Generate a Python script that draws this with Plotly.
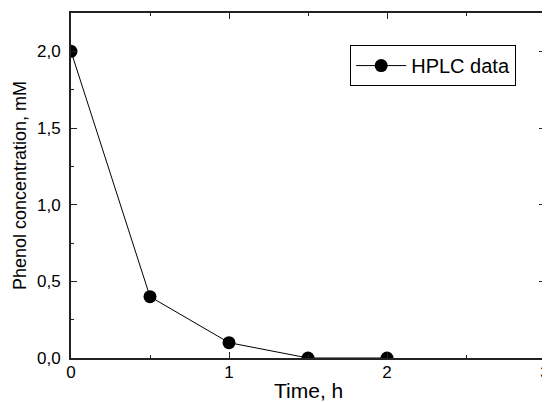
import plotly.graph_objects as go

time_h = [0, 0.5, 1, 1.5, 2]
phenol_mM = [2.0, 0.4, 0.1, 0.0, 0.0]
series_name = "HPLC data"
x_title = "Time, h"
y_title = "Phenol concentration, mM"

fig = go.Figure()
fig.add_trace(go.Scatter(
    x=time_h, y=phenol_mM, mode="lines+markers", name=series_name,
    line=dict(color="black", width=1),
    marker=dict(color="black", size=13, symbol="circle"),
    cliponaxis=True,
))

FONT = "Liberation Sans, Arial"
axis_common = dict(
    showline=True, linecolor="#222", linewidth=2, mirror="ticks",
    ticks="inside", tickcolor="#222", tickwidth=1, ticklen=6,
    showgrid=False, zeroline=False, automargin=False,
    tickfont=dict(family=FONT, size=17, color="black"),
)

# page body has an 8px default margin, so the figure is offset by (8, 8)
fig.update_layout(
    width=550, height=402,
    margin=dict(l=63, r=13, t=5, b=52),
    paper_bgcolor="white", plot_bgcolor="white",
    separators=", ",
    showlegend=True,
    legend=dict(
        x=0.589, y=0.907, xanchor="left", yanchor="top",
        bordercolor="black", borderwidth=1, bgcolor="white",
        font=dict(family=FONT, size=20, color="black"),
        itemwidth=50,
        tracegroupgap=0,
    ),
    xaxis=dict(
        range=[0, 3], dtick=1, tick0=0, ticklabelstandoff=-2,
        minor=dict(dtick=0.5, ticks="inside", ticklen=3, tickcolor="#222"),
        **axis_common,
    ),
    yaxis=dict(
        range=[0, 2.25], dtick=0.5, tick0=0, tickformat=".1f", ticklabelstandoff=5,
        minor=dict(dtick=0.25, ticks="inside", ticklen=3, tickcolor="#222"),
        title=dict(text=y_title, standoff=6,
                   font=dict(family=FONT, size=18, color="black")),
        **axis_common,
    ),
)

fig.add_annotation(
    text=x_title, xref="paper", yref="paper", x=0.5, y=0,
    xanchor="center", yanchor="top", yshift=-19, showarrow=False,
    font=dict(family=FONT, size=21, color="black"),
)

fig.write_html("out.html")
